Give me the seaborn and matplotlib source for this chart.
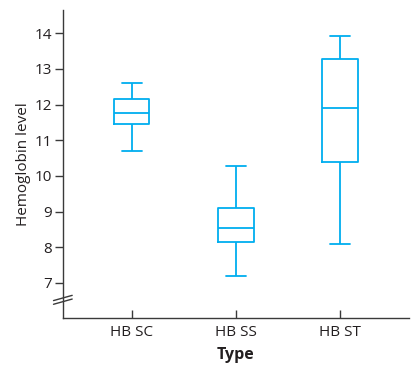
import numpy as np
import pandas as pd
import matplotlib
matplotlib.use("Agg")
import matplotlib.pyplot as plt
import seaborn as sns

# five-number summaries (min, Q1, median, Q3, max)
types = ["HB SC", "HB SS", "HB ST"]
hb_sc = [10.70, 11.45, 11.75, 12.16, 12.60]
hb_ss = [7.18, 8.14, 8.53, 9.09, 10.29]
hb_st = [8.10, 10.39, 11.91, 13.29, 13.92]
y_ticks = [7, 8, 9, 10, 11, 12, 13, 14]

BOX_COLOR = "#00AEEF"
TEXT_COLOR = "#231F20"

df = pd.DataFrame({
    "Type": np.repeat(types, 5),
    "Hemoglobin level": hb_sc + hb_ss + hb_st,
})

sns.set_style("ticks")
plt.rcParams["font.family"] = ["Open Sans", "DejaVu Sans"]

fig = plt.figure(figsize=(4.19, 3.70), dpi=100)
ax = fig.add_axes([0.150, 0.141, 0.826, 0.832])

sns.boxplot(
    data=df, x="Type", y="Hemoglobin level", order=types,
    fill=False, color=BOX_COLOR, linecolor=BOX_COLOR,
    width=0.34, linewidth=1.3, whis=np.inf, showfliers=False,
    capwidths=0.19, ax=ax,
)

ax.set_xlim(-0.66, 2.66)
ax.set_ylim(6.02, 14.65)
ax.set_yticks(y_ticks)

sns.despine(ax=ax)
for side in ["left", "bottom"]:
    ax.spines[side].set_color("#3a3a3a")
    ax.spines[side].set_linewidth(1.0)

ax.tick_params(axis="y", direction="out", length=6, width=1.0,
               colors="#3a3a3a", labelcolor=TEXT_COLOR, labelsize=11, pad=2)
ax.tick_params(axis="x", direction="in", length=6, width=1.0,
               colors="#3a3a3a", labelcolor=TEXT_COLOR, labelsize=11, pad=5)

ax.set_ylabel("Hemoglobin level", fontsize=11, color=TEXT_COLOR, labelpad=2)
ax.set_xlabel("Type", fontsize=11.5, fontweight="bold", color=TEXT_COLOR, labelpad=5)

# axis break marks on the left spine
for dy in (0.0, 0.012):
    ax.plot([-0.027, 0.027], [0.044 + dy, 0.061 + dy], transform=ax.transAxes,
            color="#3a3a3a", linewidth=1.0, clip_on=False)

fig.savefig("out.png", dpi=100)
